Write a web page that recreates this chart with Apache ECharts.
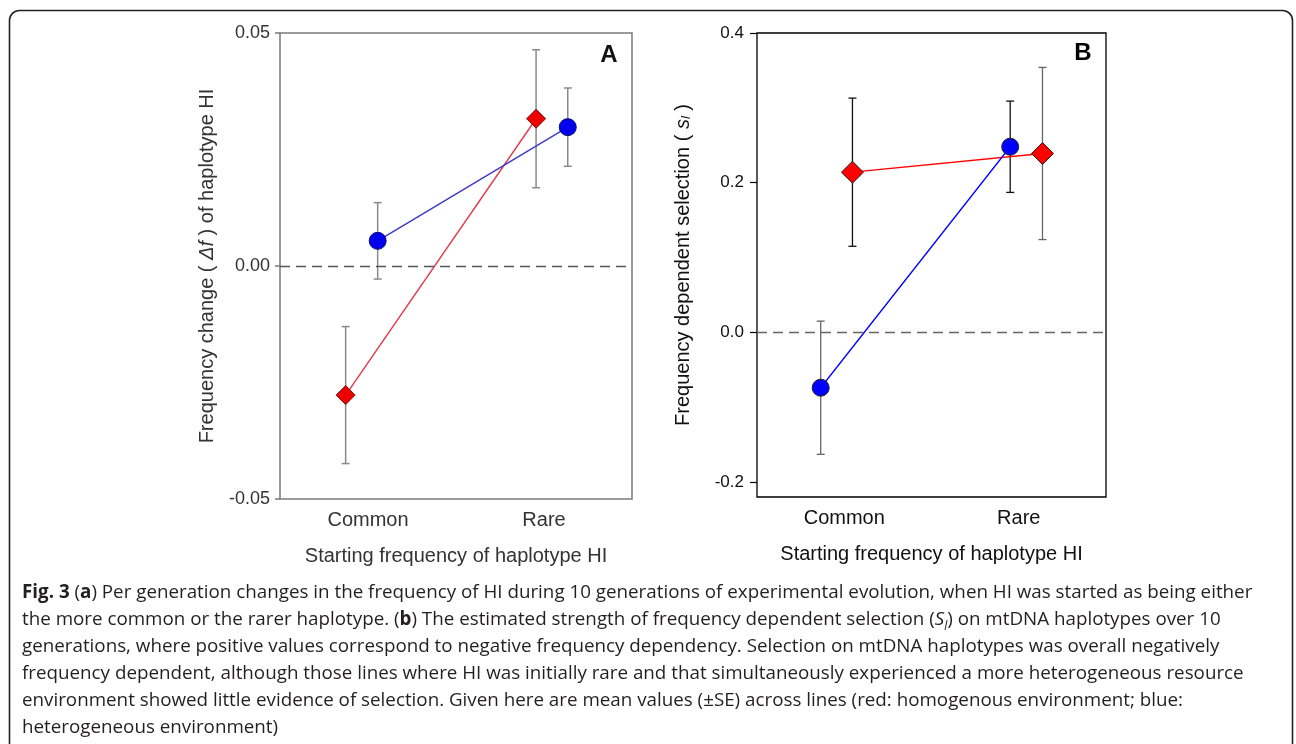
<!DOCTYPE html>
<html>
<head>
<meta charset="utf-8">
<script src="https://cdn.jsdelivr.net/npm/echarts@6/dist/echarts.min.js"></script>
<style>
html,body{margin:0;padding:0;background:#fff;}
#chart{width:1296px;height:744px;}
</style>
</head>
<body>
<div id="chart"></div>
<script>
// ---- data ----
const categories = ['Common', 'Rare'];
const categoryPos = [1, 2];

// Panel A: frequency change (Δf)
const redA_x = [0.873, 1.955];
const redA = [-0.0277, 0.0316];
const redA_se = [0.0147, 0.0148];
const blueA_x = [1.055, 2.135];
const blueA = [0.0054, 0.0298];
const blueA_se = [0.0082, 0.0084];
const ticksA = [-0.05, 0, 0.05];

// Panel B: frequency dependent selection (s_l)
const redB_x = [1.047, 2.136];
const redB = [0.214, 0.239];
const redB_se = [0.099, 0.115];
const blueB_x = [0.865, 1.951];
const blueB = [-0.074, 0.248];
const blueB_se = [0.089, 0.061];
const ticksB = [-0.2, 0, 0.2, 0.4];

const xName = 'Starting frequency of haplotype HI';
const captionLines = [
  '{b|Fig. 3} ({b|a}) Per generation changes in the frequency of HI during 10 generations of experimental evolution, when HI was started as being either',
  'the more common or the rarer haplotype. ({b|b}) The estimated strength of frequency dependent selection ({i|S}{sub|l}) on mtDNA haplotypes over 10',
  'generations, where positive values correspond to negative frequency dependency. Selection on mtDNA haplotypes was overall negatively',
  'frequency dependent, although those lines where HI was initially rare and that simultaneously experienced a more heterogeneous resource',
  'environment showed little evidence of selection. Given here are mean values (±SE) across lines (red: homogenous environment; blue:',
  'heterogeneous environment)'
];

// ---- styles ----
const FONT = '"Liberation Sans", Arial, sans-serif';
const CAPFONT = '"Open Sans", "Noto Sans", sans-serif';
const CAPSIZE = 18.8;
const errColorsA = { red: ['#8a8a8a', '#8a8a8a'], blue: ['#8a8a8a', '#8a8a8a'] };
const errColorsB = { red: ['#111', '#666'], blue: ['#666', '#111'] };

function zip(xs, ys) { return xs.map((x, i) => [x, ys[i]]); }
function errData(xs, ys, se) { return xs.map((x, i) => [x, ys[i], se[i], i]); }

function errSeries(xi, xs, ys, se, colors, w) {
  return {
    type: 'custom', xAxisIndex: xi, yAxisIndex: xi, z: 2, silent: true,
    data: errData(xs, ys, se),
    renderItem: function (params, api) {
      const x = api.value(0), y = api.value(1), s = api.value(2), idx = api.value(3);
      const t = api.coord([x, y + s]);
      const b = api.coord([x, y - s]);
      const hw = 4;
      const st = { stroke: colors[idx], lineWidth: w };
      return {
        type: 'group',
        children: [
          { type: 'line', shape: { x1: t[0], y1: t[1], x2: b[0], y2: b[1] }, style: st },
          { type: 'line', shape: { x1: t[0] - hw, y1: t[1], x2: t[0] + hw, y2: t[1] }, style: st },
          { type: 'line', shape: { x1: b[0] - hw, y1: b[1], x2: b[0] + hw, y2: b[1] }, style: st }
        ]
      };
    }
  };
}

function lineSeries(xi, xs, ys, opt) {
  return {
    type: 'line', xAxisIndex: xi, yAxisIndex: xi, z: 3, silent: true,
    data: zip(xs, ys),
    symbol: opt.symbol, symbolSize: opt.size,
    lineStyle: { color: opt.line, width: opt.lw },
    itemStyle: { color: opt.fill, borderColor: opt.border, borderWidth: 1 },
    showSymbol: true
  };
}

function zeroLine(xi, color) {
  return {
    type: 'line', xAxisIndex: xi, yAxisIndex: xi, data: [], silent: true, z: 1,
    markLine: {
      silent: true, symbol: 'none', label: { show: false },
      lineStyle: { type: [10, 6], color: color, width: 1.3 },
      data: [{ yAxis: 0 }]
    }
  };
}

function xAxisCfg(gi, color) {
  return {
    gridIndex: gi, type: 'value', min: 0.5, max: 2.5,
    axisLine: { show: false }, axisTick: { show: false }, splitLine: { show: false },
    axisLabel: {
      customValues: categoryPos, margin: 11, fontSize: 20, fontFamily: FONT, color: color,
      formatter: v => categories[categoryPos.indexOf(v)] || ''
    },
    name: xName, nameLocation: 'middle', nameGap: 47,
    nameTextStyle: { fontSize: 20, fontFamily: FONT, color: color }
  };
}

const chart = echarts.init(document.getElementById('chart'), null, { renderer: 'canvas' });

const option = {
  animation: false,
  backgroundColor: '#fff',
  grid: [
    { left: 280, top: 33, width: 352, height: 466, show: true, borderColor: '#7a7a7a', borderWidth: 1.5, backgroundColor: 'transparent' },
    { left: 757, top: 33, width: 349, height: 464, show: true, borderColor: '#000', borderWidth: 1.3, backgroundColor: 'transparent' }
  ],
  xAxis: [xAxisCfg(0, '#333'), xAxisCfg(1, '#111')],
  yAxis: [
    {
      gridIndex: 0, type: 'value', min: -0.05, max: 0.05, interval: 0.05,
      axisLine: { show: false }, splitLine: { show: false },
      axisTick: { show: true, inside: false, length: 5, lineStyle: { color: '#7a7a7a', width: 1.5 } },
      axisLabel: { margin: 10, fontSize: 18, fontFamily: FONT, color: '#333', formatter: v => v.toFixed(2) },
      name: 'Frequency change ( {i|Δf} ) of haplotype HI', nameLocation: 'middle', nameGap: 63,
      nameTextStyle: { fontSize: 20, fontFamily: FONT, color: '#333', rich: { i: { fontStyle: 'italic', fontSize: 20, fontFamily: FONT, color: '#333' } } }
    },
    {
      gridIndex: 1, type: 'value', min: -0.22, max: 0.4,
      axisLine: { show: false }, splitLine: { show: false },
      axisTick: { show: true, inside: false, length: 7, customValues: ticksB, lineStyle: { color: '#000', width: 1.2 } },
      axisLabel: { customValues: ticksB, margin: 13, fontSize: 17, fontFamily: FONT, color: '#111', formatter: v => v.toFixed(1) },
      name: 'Frequency dependent selection ( {i|s}{sub|l} )', nameLocation: 'middle', nameGap: 64,
      nameTextStyle: { fontSize: 20, fontFamily: FONT, color: '#111',
        rich: { i: { fontStyle: 'italic', fontSize: 20, fontFamily: FONT, color: '#111' },
                sub: { fontStyle: 'italic', fontSize: 13, fontFamily: FONT, color: '#111', verticalAlign: 'bottom' } } }
    }
  ],
  series: [
    zeroLine(0, '#555'),
    zeroLine(1, '#666'),
    errSeries(0, redA_x, redA, redA_se, errColorsA.red, 1.5),
    errSeries(0, blueA_x, blueA, blueA_se, errColorsA.blue, 1.5),
    lineSeries(0, redA_x, redA, { symbol: 'diamond', size: 19, line: '#e23a4a', lw: 1.4, fill: '#ee0000', border: '#7a1010' }),
    lineSeries(0, blueA_x, blueA, { symbol: 'circle', size: 17, line: '#3a3ac8', lw: 1.4, fill: '#0000ee', border: '#10106a' }),
    errSeries(1, redB_x, redB, redB_se, errColorsB.red, 1.3),
    errSeries(1, blueB_x, blueB, blueB_se, errColorsB.blue, 1.3),
    lineSeries(1, redB_x, redB, { symbol: 'diamond', size: 22, line: '#ff0000', lw: 1.3, fill: '#ff0000', border: '#222' }),
    lineSeries(1, blueB_x, blueB, { symbol: 'circle', size: 17, line: '#0000ff', lw: 1.3, fill: '#0000ff', border: '#222' })
  ],
  graphic: [
    { type: 'rect', shape: { x: 9.5, y: 10.5, width: 1283, height: 745, r: 10 }, style: { fill: 'none', stroke: '#222', lineWidth: 1.6 }, z: 0 },
    { type: 'text', x: 609, y: 55, style: { text: 'A', font: 'bold 24px ' + FONT, fill: '#111', align: 'center', verticalAlign: 'middle' }, z: 10 },
    { type: 'text', x: 1083, y: 53, style: { text: 'B', font: 'bold 24px ' + FONT, fill: '#000', align: 'center', verticalAlign: 'middle' }, z: 10 },
    {
      type: 'text', x: 22, y: 579, z: 10,
      style: {
        text: captionLines.join('\n'),
        fontSize: CAPSIZE, fontFamily: CAPFONT, fill: '#231f20', lineHeight: 27,
        rich: {
          b: { fontWeight: 'bold', fontSize: CAPSIZE, fontFamily: CAPFONT, fill: '#231f20', lineHeight: 27 },
          i: { fontStyle: 'italic', fontSize: CAPSIZE, fontFamily: CAPFONT, fill: '#231f20', lineHeight: 27 },
          sub: { fontStyle: 'italic', fontSize: 12, fontFamily: CAPFONT, fill: '#231f20', lineHeight: 20, verticalAlign: 'bottom' }
        }
      }
    }
  ]
};
chart.setOption(option);
</script>
</body>
</html>
